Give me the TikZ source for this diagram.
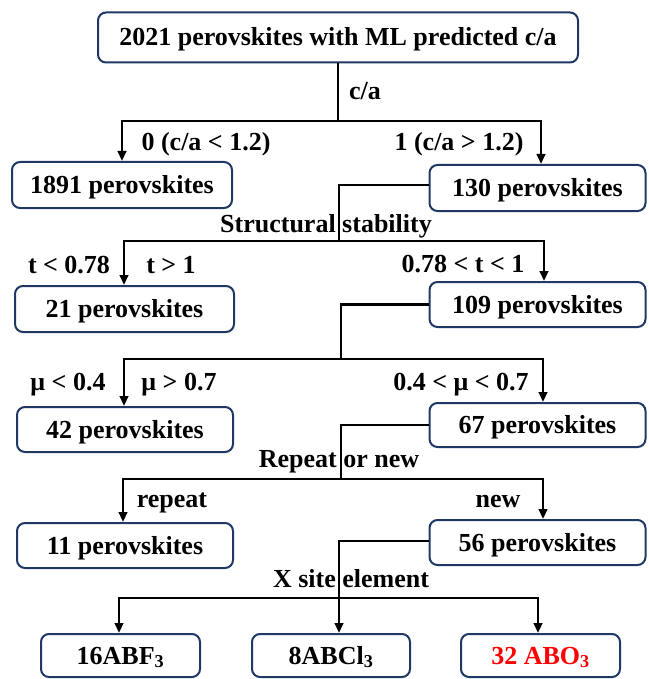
\documentclass[tikz,border=0pt]{standalone}
\usepackage{fontspec}
\setmainfont{Liberation Serif}
\usetikzlibrary{arrows.meta}
\definecolor{boxblue}{RGB}{31,56,100}
\definecolor{abored}{RGB}{255,0,0}
\tikzset{
  box/.style={draw=boxblue, line width=2pt, rounded corners=8pt, align=center, inner sep=0pt,
    text height=22pt, text depth=5pt,
    font=\fontsize{26}{30}\selectfont\bfseries},
  conn/.style={draw=black, line width=2.6pt},
  arr/.style={conn, -{Triangle[length=10pt,width=8.5pt]}},
  lbl/.style={inner sep=0pt, anchor=base, font=\fontsize{26}{30}\selectfont\bfseries}
}
\begin{document}
\begin{tikzpicture}[x=1pt,y=-1pt]
\useasboundingbox (0,0) rectangle (648,679);
% boxes
\node[box, minimum width=480, minimum height=50] (top) at (338,37.5) {2021 perovskites with ML predicted c/a};
\node[box, minimum width=220, minimum height=46] (n1891) at (122,185) {1891 perovskites};
\node[box, minimum width=216, minimum height=46] (n130) at (537.5,188) {130 perovskites};
\node[box, minimum width=219, minimum height=46] (n21) at (124.5,309) {21 perovskites};
\node[box, minimum width=216, minimum height=45] (n109) at (537.5,304.5) {109 perovskites};
\node[box, minimum width=216, minimum height=45] (n42) at (125,429.5) {42 perovskites};
\node[box, minimum width=216, minimum height=44] (n67) at (537.5,425) {67 perovskites};
\node[box, minimum width=216, minimum height=45] (n11) at (125,545.5) {11 perovskites};
\node[box, minimum width=216, minimum height=45] (n56) at (537.5,542.5) {56 perovskites};
\node[box, minimum width=159, minimum height=43] (bF) at (120.5,655.5) {16ABF\textsubscript{3}};
\node[box, minimum width=158, minimum height=43] (bCl) at (331,655.5) {8ABCl\textsubscript{3}};
\node[box, minimum width=159, minimum height=43, text=abored] (bO) at (540.5,655.5) {32 ABO\textsubscript{3}};
% junctions
\coordinate (j1) at (338,121);
\coordinate (j2) at (339,241);
\coordinate (j3) at (341,359);
\coordinate (j4) at (341,479);
\coordinate (j5) at (339,598);
% connectors
\draw[conn] (top.south) -- (j1);
\draw[arr] (j1) -| (n1891.north);
\draw[arr] (j1) -| ([xshift=3.5pt]n130.north);
\draw[conn] ([yshift=3pt]n130.west) -| (j2);
\draw[arr] (j2) -| ([xshift=-0.5pt]n21.north);
\draw[arr] (j2) -| ([xshift=6.5pt]n109.north);
\draw[conn] (n109.west) -| (j3);
\draw[arr] (j3) -| ([xshift=-1pt]n42.north);
\draw[arr] (j3) -| ([xshift=5.5pt]n67.north);
\draw[conn] (n67.west) -| (j4);
\draw[arr] (j4) -| ([xshift=-2pt]n11.north);
\draw[arr] (j4) -| ([xshift=5.5pt]n56.north);
\draw[conn] ([yshift=1.5pt]n56.west) -| (j5);
\draw[arr] (j5) -- (j5 |- bCl.north);
\draw[arr] (j5) -| ([xshift=-1.5pt]bF.north);
\draw[arr] (j5) -| ([xshift=-2.5pt]bO.north);
% labels
\node[lbl] (lca) at (365,100) {c/a};
\node[lbl] (l0) at (206,150) {0 (c/a < 1.2)};
\node[lbl] (l1) at (459,150) {1 (c/a > 1.2)};
\node[lbl] (lss) at (326,232) {Structural stability};
\node[lbl] (lt1) at (69,273) {t < 0.78};
\node[lbl] (lt2) at (171,273) {t > 1};
\node[lbl] (lt3) at (463,272) {0.78 < t < 1};
\node[lbl] (lm1) at (68,390) {μ < 0.4};
\node[lbl] (lm2) at (179,390) {μ > 0.7};
\node[lbl] (lm3) at (461,390) {0.4 < μ < 0.7};
\node[lbl] (lrn) at (339,467) {Repeat or new};
\node[lbl] (lrep) at (172,507) {repeat};
\node[lbl] (lnew) at (498,507) {new};
\node[lbl] (lx) at (351,587) {X site element};
\end{tikzpicture}
\end{document}
